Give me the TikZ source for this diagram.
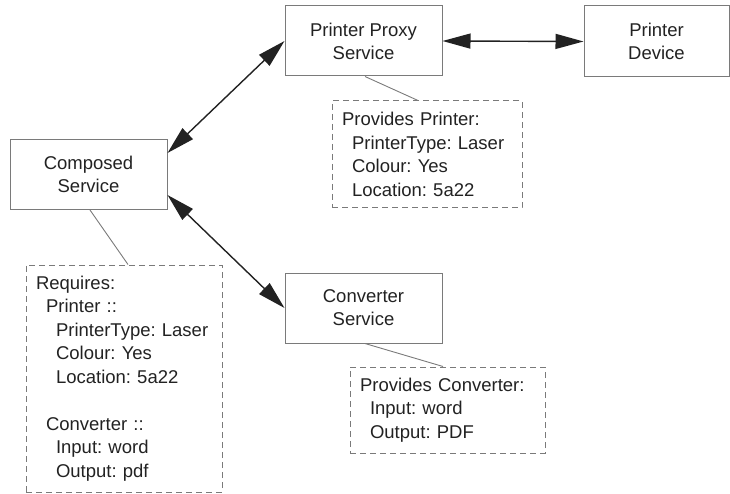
\documentclass[tikz,border=0pt]{standalone}
\usepackage{fontspec}
\setmainfont{Liberation Sans}
\usetikzlibrary{arrows.meta}
\frenchspacing
\definecolor{boxgray}{HTML}{7A7A7A}
\definecolor{inkc}{HTML}{222222}
\tikzset{
  svcbox/.style={draw=boxgray, line width=1pt, minimum width=157pt, minimum height=70pt,
    inner sep=0pt, align=center, text=inkc, font=\fontsize{18.5}{23}\selectfont},
  notebox/.style={draw=boxgray, line width=1pt, dash pattern=on 6pt off 4pt, inner sep=0pt,
    align=left, text=inkc, font=\fontsize{18.5}{23.5}\selectfont\frenchspacing},
  link/.style={draw=inkc, line width=1.4pt, {Triangle[length=28pt,width=15pt]}-{Triangle[length=28pt,width=15pt]}},
  tie/.style={draw=boxgray, line width=0.9pt}
}
\newcommand{\ind}[1]{\hspace*{#1pt}}
\begin{document}
\begin{tikzpicture}[x=1pt,y=-1pt]
\useasboundingbox (0,0) rectangle (730,494);
\node[svcbox] (comp) at (88.5,174.5) {Composed\\Service};
\node[svcbox] (proxy) at (363.5,41) {Printer Proxy\\Service};
\node[svcbox, minimum width=145pt, minimum height=71pt] (dev) at (656.5,41.5) {Printer\\Device};
\node[svcbox] (conv) at (363.5,308) {Converter\\Service};

\node[notebox, minimum width=196pt, minimum height=227pt, text width=176pt] (req) at (124,378.5)
  {Requires:\\\ind{10}Printer ::\\\ind{20}PrinterType: Laser\\\ind{20}Colour: Yes\\\ind{20}Location: 5a22\\[23.5pt]\ind{10}Converter ::\\\ind{20}Input: word\\\ind{20}Output: pdf};
\node[notebox, minimum width=190pt, minimum height=107pt, text width=170pt] (pprov) at (427,154.5)
  {Provides Printer:\\\ind{10}PrinterType: Laser\\\ind{10}Colour: Yes\\\ind{10}Location: 5a22};
\node[notebox, minimum width=195pt, minimum height=86pt, text width=175pt] (cprov) at (447.5,410)
  {\mbox{Provides Converter:}\\\ind{10}Input: word\\\ind{10}Output: PDF};

\draw[link] ([yshift=21.5pt]comp.east) -- (proxy.west);
\draw[link] ([yshift=-20.5pt]comp.east) -- (conv.west);
\draw[link] (proxy.east) -- (dev.west);

\draw[tie] ([xshift=1.5pt]comp.south) -- ([xshift=4pt]req.north);
\draw[tie] ([xshift=1.5pt]proxy.south) -- ([xshift=-9pt]pprov.north);
\draw[tie] ([xshift=1.5pt]conv.south) -- ([xshift=-4.5pt]cprov.north);
\end{tikzpicture}
\end{document}
